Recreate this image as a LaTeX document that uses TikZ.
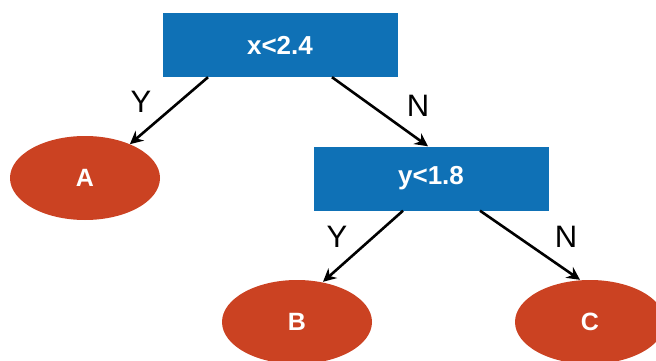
\documentclass[tikz,border=0pt]{standalone}
\usepackage{fontspec}
\setmainfont{Liberation Sans}
\usetikzlibrary{arrows.meta,shapes.geometric}
\definecolor{testblue}{HTML}{0F71B6}
\definecolor{leafred}{HTML}{CB4222}
\begin{document}
\begin{tikzpicture}[x=1pt,y=1pt,
  testbox/.style={rectangle,fill=testblue,minimum width=235pt,minimum height=64pt,
    inner sep=0pt,text=white,font=\fontsize{26}{30}\selectfont\bfseries},
  leaf/.style={ellipse,fill=leafred,minimum width=150pt,minimum height=84pt,
    inner sep=0pt,text=white,font=\fontsize{25}{30}\selectfont\bfseries},
  edge/.style={line width=2.6pt,-{Stealth[length=13pt,width=13pt]}},
  answer/.style={font=\fontsize{31}{36}\selectfont,inner sep=0pt}]
\useasboundingbox (0,0) rectangle (656,360);
% decision nodes
\node[testbox] (top) at (280,315) {x<2.4};
\node[testbox] (mid) at (431,181.5) {y<1.8};
% leaves
\node[leaf] (A) at (85,182) {A};
\node[leaf] (B) at (297,38) {B};
\node[leaf] (C) at (590,38) {C};
% branches
\draw[edge] ([xshift=-72pt]top.south) -- (A.37);
\draw[edge] ([xshift=52pt]top.south) -- ([xshift=-3pt]mid.north);
\draw[edge] ([xshift=-28pt]mid.south) -- ([xshift=26pt,yshift=-2pt]B.north);
\draw[edge] ([xshift=49pt]mid.south) -- ([xshift=-10pt]C.north);
% branch labels
\node[answer] (y1) at (141,258.5) {Y};
\node[answer] (n1) at (418,254) {N};
\node[answer] (y2) at (337,123.5) {Y};
\node[answer] (n2) at (566,123.5) {N};
\end{tikzpicture}
\end{document}
